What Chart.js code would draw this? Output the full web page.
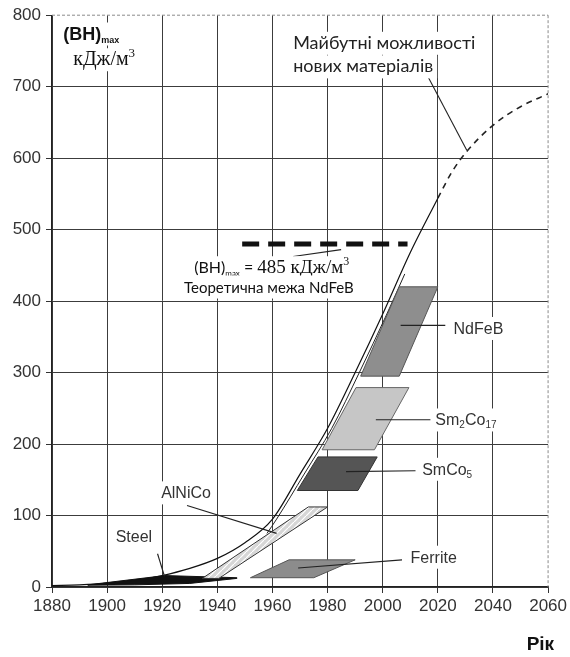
<!DOCTYPE html>
<html>
<head>
<meta charset="utf-8">
<script src="https://cdn.jsdelivr.net/npm/chart.js@4.4.1/dist/chart.umd.min.js"></script>
<style>
  html, body { margin: 0; background: #fff; }
  #wrap { width: 570px; height: 657px; position: relative; }
</style>
</head>
<body>
<div id="wrap"><canvas id="chart"></canvas></div>
<script>
// Дані (рік / (BH)max, кДж/м3)
const yearTicks = [1880, 1900, 1920, 1940, 1960, 1980, 2000, 2020, 2040, 2060];
const valueTicks = [0, 100, 200, 300, 400, 500, 600, 700, 800];

const curveYears = [1880, 1890, 1900, 1910, 1920, 1930, 1940, 1950, 1960, 1970, 1980, 1990, 2000, 2010, 2020];
const curveValues = [2, 3, 5, 9, 16, 26, 40, 62, 95, 158, 222, 300, 382, 468, 544];

const edgeYears = [1958, 1961.5, 1971.5, 1981.5, 1991.5, 2001.5, 2008];
const edgeValues = [75, 95, 158, 222, 300, 382, 438];

const futureYears = [2020, 2025, 2030, 2040, 2050, 2060];
const futureValues = [544, 580, 607, 646, 672, 690];

const limitYears = [1949, 2009];
const limitValues = [480, 480];

const ndfebYears = [1992, 2006, 2020, 2006, 1992];
const ndfebValues = [295, 295, 420, 420, 295];

const sm2co17Years = [1978, 1997, 2009.5, 1990.3, 1978];
const sm2co17Values = [192, 192, 279, 279, 192];

const smco5Years = [1969, 1991, 1998, 1976.5, 1969];
const smco5Values = [135, 135, 182, 182, 135];

const ferriteYears = [1952, 1975, 1990, 1966, 1952];
const ferriteValues = [13, 13, 38, 38, 13];

const alnicoYears = [1934.5, 1940.5, 1980, 1973, 1934.5];
const alnicoValues = [12, 12, 112, 112, 12];

const steelYears = [1893, 1921, 1947, 1947, 1930, 1910, 1893, 1893];
const steelValues = [3, 16, 13, 12, 5, 3, 2.5, 3];

const SANS = '"Liberation Sans", Arial, sans-serif';
const SERIF = '"Liberation Serif", "Times New Roman", serif';
const SOFT = 'Lato, "Noto Sans", sans-serif';

function pts(xs, ys) {
    return xs.map((x, i) => ({ x: x, y: ys[i] }));
}

// Штриховка для AlNiCo
function hatch() {
    const c = document.createElement('canvas');
    c.width = 6; c.height = 6;
    const g = c.getContext('2d');
    g.fillStyle = '#d6d6d6';
    g.fillRect(0, 0, 6, 6);
    g.strokeStyle = '#ffffff';
    g.lineWidth = 1.2;
    g.beginPath();
    g.moveTo(0, 6); g.lineTo(6, 0);
    g.stroke();
    return g.createPattern(c, 'repeat');
}

function shape(xs, ys, fill, stroke) {
    return {
        data: pts(xs, ys),
        showLine: true,
        fill: 'shape',
        backgroundColor: fill,
        borderColor: stroke,
        borderWidth: 1,
        pointRadius: 0
    };
}

// Виноски: [рік, значення] -> [рік, значення]
const pointers = [
    [[2014.9, 725], [2030.5, 611]],
    [[1967.5, 462.5], [1984.9, 472]],
    [[2006.5, 366], [2022.7, 366]],
    [[1997.5, 234], [2017.3, 234]],
    [[1986.7, 161.4], [2011.9, 162.7]],
    [[1969.3, 26.5], [2007, 38]],
    [[1929, 114], [1961.5, 75]],
    [[1918.3, 46.5], [1920.8, 15]]
];

// Підписи: позиція (рік, значення базової лінії) і частини тексту [текст, шрифт, зсув]
const notes = [
    { at: [1884.1, 766], parts: [['(BH)', 'bold 18px ' + SANS], ['max', 'bold 9px ' + SANS, 3]] },
    { at: [1887.7, 730], parts: [['кДж/м', '20px ' + SERIF], ['3', '13px ' + SERIF, -8]] },
    { at: [1967.5, 753], parts: [['Майбутні можливості', '18px ' + SOFT]], color: '#222' },
    { at: [1967.5, 720], parts: [['нових матеріалів', '18px ' + SOFT]], color: '#222' },
    { at: [1931.6, 439], parts: [['(BH)', '16px ' + SOFT], ['max', '8px ' + SOFT, 3], [' = ', '16px ' + SOFT], ['485 кДж/м', '19px ' + SERIF], ['3', '12px ' + SERIF, -8]] },
    { at: [1927.9, 412], parts: [['Теоретична межа NdFeB', '15px ' + SOFT]] },
    { at: [2025.7, 354], parts: [['NdFeB', '16px ' + SANS]], color: '#333' },
    { at: [2019.1, 226], parts: [['Sm', '16px ' + SANS], ['2', '10px ' + SANS, 3], ['Co', '16px ' + SANS], ['17', '10px ' + SANS, 3]], color: '#333' },
    { at: [2014.3, 157], parts: [['SmCo', '16px ' + SANS], ['5', '10px ' + SANS, 3]], color: '#333' },
    { at: [2010.1, 34], parts: [['Ferrite', '16px ' + SANS]], color: '#333' },
    { at: [1919.6, 124], parts: [['AlNiCo', '16px ' + SANS]], color: '#333' },
    { at: [1903.1, 63], parts: [['Steel', '16px ' + SANS]], color: '#333' }
];

const notesPlugin = {
    id: 'notes',
    beforeDatasetsDraw(chart) {
        const { ctx, scales: { x, y } } = chart;
        ctx.save();
        ctx.strokeStyle = '#8a8a8a';
        ctx.lineWidth = 1;
        ctx.setLineDash([3, 2]);
        ctx.beginPath();
        ctx.moveTo(x.getPixelForValue(1880), y.getPixelForValue(800));
        ctx.lineTo(x.getPixelForValue(2060), y.getPixelForValue(800));
        ctx.moveTo(x.getPixelForValue(2060), y.getPixelForValue(800));
        ctx.lineTo(x.getPixelForValue(2060), y.getPixelForValue(0));
        ctx.stroke();
        ctx.restore();
    },
    afterDatasetsDraw(chart) {
        const { ctx, scales: { x, y } } = chart;
        ctx.save();
        ctx.strokeStyle = '#222';
        ctx.lineWidth = 1.1;
        pointers.forEach(p => {
            ctx.beginPath();
            ctx.moveTo(x.getPixelForValue(p[0][0]), y.getPixelForValue(p[0][1]));
            ctx.lineTo(x.getPixelForValue(p[1][0]), y.getPixelForValue(p[1][1]));
            ctx.stroke();
        });
        ctx.textBaseline = 'alphabetic';
        notes.forEach(n => {
            const px = x.getPixelForValue(n.at[0]);
            const py = y.getPixelForValue(n.at[1]);
            let w = 0;
            n.parts.forEach(p => { ctx.font = p[1]; w += ctx.measureText(p[0]).width; });
            ctx.fillStyle = '#fff';
            ctx.fillRect(px - 4, py - 17, w + 8, 23);
            ctx.fillStyle = n.color || '#111';
            let cx = px;
            n.parts.forEach(p => {
                ctx.font = p[1];
                ctx.fillText(p[0], cx, py + (p[2] || 0));
                cx += ctx.measureText(p[0]).width;
            });
        });
        // Підпис осі
        ctx.font = 'bold 19px ' + SANS;
        ctx.fillStyle = '#111';
        ctx.textAlign = 'right';
        ctx.fillText('Рік', chart.chartArea.right + 6, 650);
        ctx.restore();
    }
};

new Chart(document.getElementById('chart'), {
    type: 'scatter',
    data: {
        datasets: [
            shape(ferriteYears, ferriteValues, '#8c8c8c', '#555'),
            shape(alnicoYears, alnicoValues, hatch(), '#333'),
            shape(smco5Years, smco5Values, '#555555', '#333'),
            shape(sm2co17Years, sm2co17Values, '#c6c6c6', '#666'),
            shape(ndfebYears, ndfebValues, '#8e8e8e', '#555'),
            shape(steelYears, steelValues, '#111', '#111'),
            {
                data: pts(curveYears, curveValues),
                showLine: true,
                cubicInterpolationMode: 'monotone',
                borderColor: '#111',
                borderWidth: 1.2,
                pointRadius: 0
            },
            {
                data: pts(edgeYears, edgeValues),
                showLine: true,
                cubicInterpolationMode: 'monotone',
                borderColor: '#222',
                borderWidth: 1,
                pointRadius: 0
            },
            {
                data: pts(futureYears, futureValues),
                showLine: true,
                cubicInterpolationMode: 'monotone',
                borderColor: '#222',
                borderWidth: 1.6,
                borderDash: [6, 5],
                pointRadius: 0
            },
            {
                data: pts(limitYears, limitValues),
                showLine: true,
                borderColor: '#111',
                borderWidth: 5,
                borderDash: [17, 9],
                borderCapStyle: 'butt',
                pointRadius: 0
            }
        ]
    },
    options: {
        responsive: true,
        maintainAspectRatio: false,
        animation: false,
        layout: { padding: { top: 13, right: 18, left: 0, bottom: 0 } },
        plugins: { legend: { display: false }, tooltip: { enabled: false } },
        scales: {
            x: {
                type: 'linear',
                min: yearTicks[0],
                max: yearTicks[yearTicks.length - 1],
                afterBuildTicks: s => { s.ticks = yearTicks.map(v => ({ value: v })); },
                afterFit: s => { s.height = 70; },
                ticks: {
                    color: '#333',
                    font: { family: SANS, size: 17 },
                    padding: 3,
                    maxRotation: 0,
                    callback: v => String(v)
                },
                grid: {
                    color: c => (c.tick && c.tick.value === 2060) ? 'rgba(0,0,0,0)' : '#3c3c3c',
                    tickColor: '#333',
                    tickLength: 6,
                    lineWidth: 1
                },
                border: { color: '#222', width: 1.2 }
            },
            y: {
                type: 'linear',
                min: valueTicks[0],
                max: valueTicks[valueTicks.length - 1],
                afterBuildTicks: s => { s.ticks = valueTicks.map(v => ({ value: v })); },
                afterFit: s => { s.width = 52; },
                ticks: {
                    color: '#333',
                    font: { family: SANS, size: 17 },
                    padding: 5,
                    callback: v => String(v)
                },
                grid: {
                    color: c => (c.tick && c.tick.value === 800) ? 'rgba(0,0,0,0)' : '#3c3c3c',
                    tickColor: '#333',
                    tickLength: 6,
                    lineWidth: 1
                },
                border: { color: '#222', width: 1.2 }
            }
        }
    },
    plugins: [notesPlugin]
});
</script>
</body>
</html>
